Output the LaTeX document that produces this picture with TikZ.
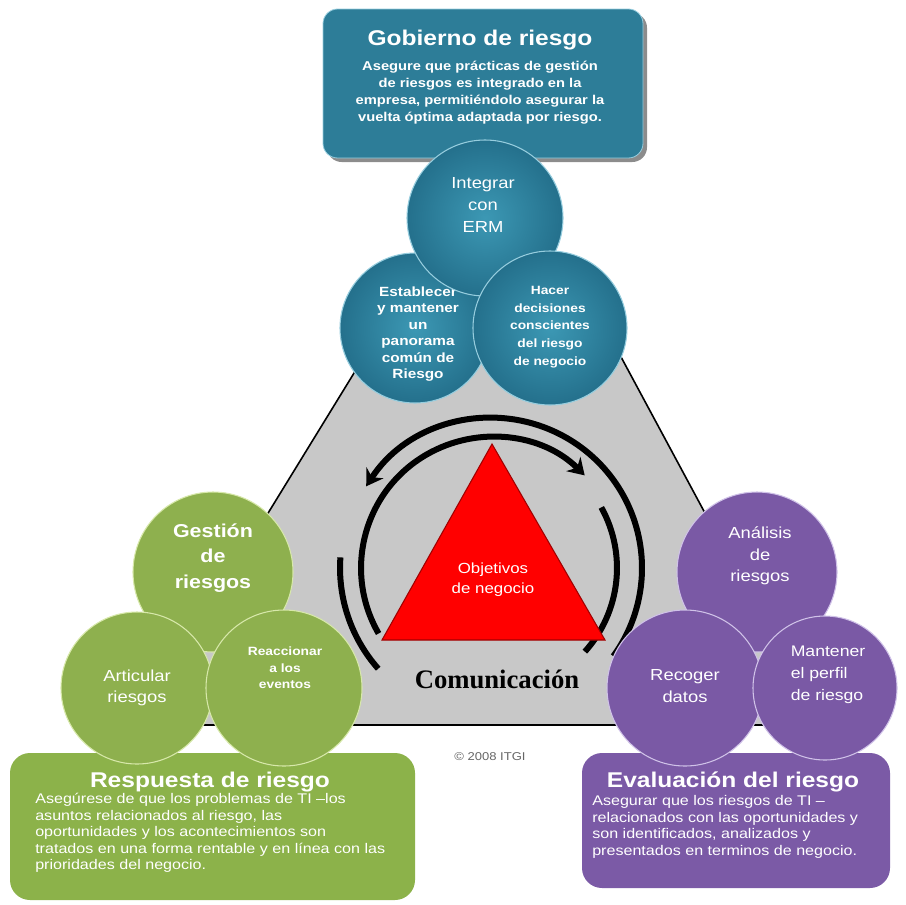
\documentclass[tikz,border=0pt]{standalone}
\usepackage{fontspec}
\setmainfont{Liberation Sans}[FakeStretch=1.15]
\newfontfamily\commfont{Liberation Serif}
\usetikzlibrary{arrows.meta}

\definecolor{cTealBox}{RGB}{45,125,152}
\definecolor{cTealIn}{RGB}{60,152,180}
\definecolor{cTealOut}{RGB}{36,112,140}
\definecolor{cTealRim}{RGB}{150,205,222}
\definecolor{cGreen}{RGB}{142,176,78}
\definecolor{cGreenRim}{RGB}{215,232,170}
\definecolor{cGreenBox}{RGB}{140,178,74}
\definecolor{cPurple}{RGB}{122,89,165}
\definecolor{cPurpleRim}{RGB}{208,194,232}
\definecolor{cPurpleBox}{RGB}{123,90,166}
\definecolor{cGray}{RGB}{200,200,200}
\definecolor{cRed}{RGB}{255,0,0}
\definecolor{cRedEdge}{RGB}{160,0,0}

\begin{document}
\begin{tikzpicture}[x=0.75pt,y=0.75pt,yscale=-1,xscale=1,
  ball/.style={circle, inner sep=0pt, line width=0.8pt},
  tealball/.style={ball, draw=cTealRim, inner color=cTealIn, outer color=cTealOut},
  greenball/.style={ball, draw=cGreenRim, fill=cGreen},
  purpleball/.style={ball, draw=cPurpleRim, fill=cPurple},
  balltext/.style={text=white, align=center, inner sep=0pt},
  boxtitle/.style={text=white, inner sep=0pt, font=\bfseries\fontsize{16}{19}\selectfont},
  boxbody/.style={text=white, align=left, inner sep=0pt, font=\fontsize{10.5}{12.4}\selectfont},
  cycarrow/.style={line width=4.5pt, draw=black},
  cyctip/.style={-{Stealth[length=12pt,width=15pt]}},
]
\useasboundingbox (0,0) rectangle (906,904);

%Shape: Gray base
\draw [draw=black, line width=1.2pt, fill=cGray] (405,290) -- (585,290) -- (819,725) -- (138,725) -- cycle ;

%Shape: Cycle arcs
\draw [cycarrow, {Stealth[length=12pt,width=15pt]}-] (366.2,486.3) arc[start angle=213, end angle=396, radius=150] ;
\draw [cycarrow, cyctip] (378.6,633.5) arc[start angle=150, end angle=315, radius=131] ;
\draw [cycarrow] (601.3,507.4) arc[start angle=331, end angle=402, radius=125] ;
\draw [cycarrow] (378.2,668.7) arc[start angle=138.5, end angle=184, radius=152] ;

%Shape: Triangle
\draw [draw=cRedEdge, line width=0.8pt, fill=cRed] (492,444) -- (605,640) -- (382,640) -- cycle ;

% Text Node
\node [text=white, align=center, font=\fontsize{11}{15}\selectfont] (objetivos) at (493,580) {Objetivos\\de negocio};
% Text Node
\node [font=\commfont\bfseries\fontsize{20}{24}\selectfont, anchor=base] (comunicacion) at (497,688) {Comunicación};

%Shape: Top box
\fill [black, opacity=0.45, rounded corners=11pt] (327,13) rectangle (647,162) ;
\node [fill=cTealBox, draw=cTealRim, line width=0.6pt, rounded corners=11pt, minimum width=240pt, minimum height=111.75pt, inner sep=0pt] (gobiernobox) at (483,83.5) {};
% Text Node
\node [boxtitle] (gobierno) at (480,40) {Gobierno de riesgo};
% Text Node
\node [text=white, align=center, inner sep=0pt, font=\bfseries\fontsize{9.6}{12.75}\selectfont] (gobiernotxt) at (480,93) {Asegure que prácticas de gestión\\de riesgos es integrado en la\\empresa, permitiéndolo asegurar la\\vuelta óptima adaptada por riesgo.};

%Shape: Teal circles
\node [tealball, minimum size=112.5pt] (establecerball) at (415,328) {};
\node [balltext, font=\bfseries\fontsize{10}{12.3}\selectfont] (establecer) at (418,334) {Establecer\\y mantener\\un\\panorama\\común de\\Riesgo};
\node [tealball, minimum size=117pt] (integrarball) at (485,218) {};
\node [balltext, font=\fontsize{12}{16.5}\selectfont] (integrar) at (483,205) {Integrar\\con\\ERM};
\node [tealball, minimum size=115.5pt] (hacerball) at (550,328) {};
\node [balltext, font=\bfseries\fontsize{9}{13.3}\selectfont] (hacer) at (550,327) {Hacer\\decisiones\\conscientes\\del riesgo\\de negocio};

%Shape: Bottom boxes
\node [fill=cGreenBox, rounded corners=15pt, minimum width=303.75pt, minimum height=110.25pt, inner sep=0pt] (respuestabox) at (212.5,826.5) {};
\node [fill=cPurpleBox, rounded corners=15pt, minimum width=231pt, minimum height=101.25pt, inner sep=0pt] (evaluacionbox) at (736,820.5) {};

%Shape: Green circles
\node [greenball, minimum size=120pt] (gestionball) at (213,572) {};
\node [balltext, font=\bfseries\fontsize{14}{19}\selectfont] (gestion) at (213,558) {Gestión\\de\\riesgos};
\node [greenball, minimum size=114pt] (articularball) at (137,688) {};
\node [balltext, font=\fontsize{12}{16}\selectfont] (articular) at (137,688) {Articular\\riesgos};
\node [greenball, minimum size=117pt] (reaccionarball) at (284,688) {};
\node [balltext, font=\bfseries\fontsize{9}{12.4}\selectfont] (reaccionar) at (285,668) {Reaccionar\\a los\\eventos};

%Shape: Purple circles
\node [purpleball, minimum size=120pt] (analisisball) at (757,572) {};
\node [balltext, font=\fontsize{12}{16}\selectfont] (analisis) at (760,556) {Análisis\\de\\riesgos};
\node [purpleball, minimum size=117pt] (recogerball) at (685,688) {};
\node [balltext, font=\fontsize{12}{17}\selectfont] (recoger) at (685,686) {Recoger\\datos};
\node [purpleball, minimum size=108pt] (mantenerball) at (825,688) {};
\node [balltext, align=left, font=\fontsize{11.5}{16.5}\selectfont] (mantener) at (828,675) {Mantener\\el perfil\\de riesgo};

% Text Node
\node [boxtitle] (respuesta) at (210,782) {Respuesta de riesgo};
% Text Node
\node [boxbody, anchor=west] (respuestatxt) at (35,833) {Asegúrese de que los problemas de TI –los\\asuntos relacionados al riesgo, las\\oportunidades y los acontecimientos son\\tratados en una forma rentable y en línea con las\\prioridades del negocio.};
% Text Node
\node [boxtitle] (evaluacion) at (733,782) {Evaluación del riesgo};
% Text Node
\node [boxbody, anchor=west] (evaluaciontxt) at (592,827) {Asegurar que los riesgos de TI –\\relacionados con las oportunidades y\\son identificados, analizados y\\presentados en terminos de negocio.};
% Text Node
\node [text=black!60, font=\fontsize{8.5}{10}\selectfont] (copyright) at (490,757) {© 2008 ITGI};

\end{tikzpicture}
\end{document}
